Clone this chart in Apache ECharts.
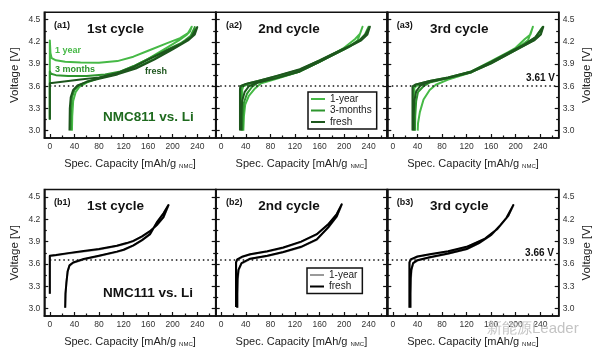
<!DOCTYPE html>
<html><head><meta charset="utf-8">
<script src="https://cdn.jsdelivr.net/npm/echarts@6/dist/echarts.min.js"></script>
<style>html,body{margin:0;padding:0;background:#fff}#c{width:600px;height:356px}</style>
</head><body><div id="c"></div>
<script>
// ---- axis ticks ----
const xTicks = [0, 40, 80, 120, 160, 200, 240];
const xMinorTicks = [20, 60, 100, 140, 180, 220, 260];
const yTicks = [3.0, 3.3, 3.6, 3.9, 4.2, 4.5];
const yMinorTicks = [3.15, 3.45, 3.75, 4.05, 4.35];
const refVoltage = [3.61, 3.66];
const refLabels = ['3.61 V', '3.66 V'];

// ---- NMC811 (row a), [capacity, voltage] ----
const a1_year = [[0,3.15],[0,4.22],[1,4.05],[3,3.98],[10,3.95],[25,3.93],[50,3.92],[80,3.918],[110,3.94],[136,4.0],[160,4.08],[190,4.18],[212,4.25],[225,4.32],[231,4.405],[228,4.34],[222,4.29],[210,4.22],[190,4.12],[160,3.97],[136,3.87],[110,3.78],[80,3.71],[60,3.65],[48,3.59],[42,3.52],[38,3.4],[36.5,3.2],[36,3.0]];
const a1_months = [[0,3.15],[0,3.8],[2,3.77],[10,3.75],[30,3.74],[60,3.74],[90,3.76],[115,3.8],[136,3.87],[160,3.97],[190,4.09],[215,4.19],[228,4.26],[236,4.4],[232,4.3],[220,4.22],[200,4.11],[170,3.97],[140,3.85],[110,3.77],[80,3.71],[60,3.66],[47,3.61],[40,3.55],[36,3.45],[34.5,3.3],[34,3.0]];
const a1_fresh = [[0,3.15],[0,3.64],[20,3.66],[50,3.69],[80,3.72],[110,3.78],[136,3.86],[160,3.96],[190,4.08],[215,4.18],[230,4.26],[240,4.4],[236,4.3],[225,4.22],[200,4.1],[170,3.96],[140,3.84],[110,3.76],[80,3.7],[60,3.66],[45,3.61],[38,3.55],[34,3.45],[32.5,3.3],[32,3.0]];

const a2_year = [[34,3.0],[34,3.55],[36,3.6],[45,3.63],[60,3.66],[90,3.73],[128,3.82],[160,3.94],[183,4.03],[210,4.14],[222,4.22],[230,4.405],[226,4.31],[218,4.24],[200,4.12],[160,3.93],[128,3.8],[90,3.7],[65,3.64],[55,3.57],[45,3.47],[39,3.35],[37,3.2],[36,3.0]];
const a2_months = [[32,3.0],[32,3.57],[34,3.61],[45,3.64],[60,3.67],[90,3.735],[128,3.825],[160,3.95],[183,4.04],[210,4.15],[226,4.23],[234,4.3],[240,4.405],[236,4.3],[226,4.22],[200,4.1],[160,3.93],[128,3.8],[90,3.71],[60,3.65],[50,3.59],[42,3.5],[37,3.38],[35,3.2],[34.5,3.0]];
const a2_fresh = [[30.5,3.0],[30.5,3.55],[31,3.6],[40,3.63],[60,3.67],[90,3.74],[128,3.83],[160,3.95],[183,4.045],[210,4.15],[226,4.225],[235,4.3],[242,4.405],[238,4.3],[228,4.22],[200,4.1],[160,3.93],[128,3.8],[90,3.71],[60,3.65],[45,3.6],[38,3.52],[34,3.4],[33,3.2],[33,3.0]];

const a3_year = [[35,3.0],[35,3.58],[40,3.61],[60,3.66],[90,3.71],[128,3.8],[160,3.94],[190,4.07],[210,4.16],[220,4.22],[228,4.405],[224,4.3],[215,4.24],[200,4.12],[160,3.93],[128,3.79],[90,3.69],[70,3.62],[60,3.55],[50,3.42],[44,3.25],[41,3.1],[40.5,3.0]];
const a3_months = [[33,3.0],[33,3.59],[37,3.62],[60,3.67],[90,3.72],[128,3.8],[160,3.93],[190,4.06],[215,4.17],[232,4.26],[244,4.405],[240,4.3],[229,4.22],[200,4.09],[160,3.91],[128,3.79],[90,3.71],[60,3.65],[50,3.6],[41,3.52],[38,3.4],[36.5,3.2],[36,3.0]];
const a3_fresh = [[32,3.0],[32,3.6],[36,3.62],[60,3.67],[90,3.72],[128,3.8],[160,3.93],[190,4.06],[215,4.17],[232,4.26],[245,4.405],[241,4.3],[230,4.22],[200,4.09],[160,3.91],[128,3.79],[90,3.71],[60,3.66],[45,3.61],[38,3.53],[35,3.4],[34,3.2],[34,3.0]];

// ---- NMC111 (row b) ----
const b1_year = [[0,3.2],[0,3.705],[10,3.715],[30,3.74],[55,3.768],[80,3.795],[109,3.84],[125,3.875],[136,3.905],[150,3.965],[163,4.035],[175,4.125],[185,4.225],[193.5,4.39],[185,4.275],[175,4.165],[163,3.995],[150,3.915],[136,3.845],[120,3.785],[109,3.76],[80,3.705],[55,3.66],[38,3.615],[32,3.575],[29,3.5],[27,3.35],[25.5,3.2],[25,3.01]];
const b1_fresh = [[0,3.2],[0,3.71],[10,3.72],[30,3.745],[55,3.773],[80,3.80],[109,3.845],[125,3.88],[136,3.91],[150,3.97],[163,4.04],[175,4.13],[185,4.23],[193,4.39],[185,4.28],[175,4.17],[163,4.0],[150,3.92],[136,3.85],[120,3.79],[109,3.765],[80,3.71],[55,3.665],[38,3.62],[32,3.58],[29,3.5],[27,3.35],[25.5,3.2],[25,3.01]];

const b2_year = [[24.5,3.02],[24.5,3.62],[26.5,3.655],[35,3.695],[47,3.725],[75,3.765],[101,3.815],[130,3.895],[155.5,3.995],[175,4.135],[188,4.265],[196.5,4.4],[188,4.235],[175,4.095],[155.5,3.925],[130,3.825],[101,3.755],[75,3.705],[47,3.665],[33,3.605],[28.5,3.52],[27,3.4],[26.5,3.2],[26.5,3.01]];
const b2_fresh = [[24,3.02],[24,3.62],[26,3.66],[35,3.70],[47,3.73],[75,3.77],[101,3.82],[130,3.9],[155.5,4.0],[175,4.14],[188,4.27],[196,4.4],[188,4.24],[175,4.1],[155.5,3.93],[130,3.83],[101,3.76],[75,3.71],[47,3.67],[33,3.61],[28,3.52],[26.5,3.4],[26,3.2],[26,3.01]];

const b3_year = [[27.5,3.01],[27.5,3.62],[29.5,3.655],[40,3.695],[60,3.725],[90,3.765],[120,3.825],[150,3.935],[170,4.065],[185,4.215],[196.5,4.39],[188,4.245],[175,4.115],[160,3.985],[140,3.875],[120,3.795],[90,3.735],[60,3.685],[40,3.645],[33,3.605],[30.5,3.52],[29.5,3.4],[29,3.2],[29,3.01]];
const b3_fresh = [[27,3.01],[27,3.62],[29,3.66],[40,3.7],[60,3.73],[90,3.77],[120,3.83],[150,3.94],[170,4.07],[185,4.22],[196,4.39],[188,4.25],[175,4.12],[160,3.99],[140,3.88],[120,3.8],[90,3.74],[60,3.69],[40,3.65],[33,3.61],[30,3.52],[29,3.4],[28.5,3.2],[28.5,3.01]];

const panelTags = ['(a1)','(a2)','(a3)','(b1)','(b2)','(b3)'];
const panelTitles = ['1st cycle','2nd cycle','3rd cycle','1st cycle','2nd cycle','3rd cycle'];

// ---- layout & style ----
const FONT = '"Liberation Sans", Arial, sans-serif';
const lefts = [44.3, 215.7, 387.3], W = 171.4;
const tops = [12.3, 189.5], Hs = [125.7, 126.5];
const C_YEAR = '#46b946', C_MONTH = '#2d952d', C_FRESH = '#1d561d';
const AX = '#111';

const panels = [
  [{name:'1-year', data:a1_year, color:C_YEAR},{name:'3-months', data:a1_months, color:C_MONTH},{name:'fresh', data:a1_fresh, color:C_FRESH}],
  [{name:'1-year', data:a2_year, color:C_YEAR},{name:'3-months', data:a2_months, color:C_MONTH},{name:'fresh', data:a2_fresh, color:C_FRESH}],
  [{name:'1-year', data:a3_year, color:C_YEAR},{name:'3-months', data:a3_months, color:C_MONTH},{name:'fresh', data:a3_fresh, color:C_FRESH}],
  [{name:'1-year ', data:b1_year, color:'#9a9a9a'},{name:'fresh ', data:b1_fresh, color:'#000'}],
  [{name:'1-year ', data:b2_year, color:'#9a9a9a'},{name:'fresh ', data:b2_fresh, color:'#000'}],
  [{name:'1-year ', data:b3_year, color:'#9a9a9a'},{name:'fresh ', data:b3_fresh, color:'#000'}]
];

const grids = [], xAxes = [], yAxes = [], series = [], graphics = [];
for (let r = 0; r < 2; r++) {
  for (let c = 0; c < 3; c++) {
    const g = r * 3 + c;
    grids.push({left: lefts[c], top: tops[r], width: W, height: Hs[r], show: true, borderColor: AX, borderWidth: 1.5, backgroundColor: 'transparent'});
    xAxes.push({
      gridIndex: g, type: 'value', min: -9, max: 270, position: 'bottom',
      axisLine: {show: true, onZero: false, lineStyle: {color: AX, width: 1.5}},
      axisTick: {show: true, inside: true, length: 4, customValues: xTicks, lineStyle: {color: AX, width: 1.2}},
      axisLabel: {show: true, customValues: xTicks, margin: 4, fontSize: 8.5, color: '#333', fontFamily: FONT},
      splitLine: {show: false},
      name: 'Spec. Capacity [mAh/g {sub|NMC}]', nameLocation: 'middle', nameGap: 20,
      nameTextStyle: {fontSize: 11, color: '#222', fontFamily: FONT, rich: {sub: {fontSize: 6, fontFamily: FONT, color: '#222', verticalAlign: 'bottom', padding: [5, 0, 0, 0]}}}
    });
    xAxes.push({
      gridIndex: g, type: 'value', min: -9, max: 270, position: 'bottom',
      axisLine: {show: false},
      axisTick: {show: true, inside: true, length: 2.5, customValues: xMinorTicks, lineStyle: {color: AX, width: 1.2}},
      axisLabel: {show: false}, splitLine: {show: false}
    });
    const mk = (pos, labels, minor) => ({
      gridIndex: g, type: 'value', min: 2.9, max: 4.6, position: pos,
      axisLine: {show: !minor, onZero: false, lineStyle: {color: AX, width: 1.5}},
      axisTick: {show: true, inside: true, length: minor ? 2.5 : 4, customValues: minor ? yMinorTicks : yTicks, lineStyle: {color: AX, width: 1.2}},
      axisLabel: {show: labels && !minor, customValues: yTicks, margin: 4, fontSize: 8.5, color: '#333', fontFamily: FONT, formatter: v => v.toFixed(1)},
      splitLine: {show: false},
      name: (labels && !minor) ? 'Voltage [V]' : '', nameLocation: 'middle', nameRotate: 90, nameGap: pos === 'left' ? 23 : 22,
      nameTextStyle: {fontSize: 11.5, color: '#222', fontFamily: FONT}
    });
    yAxes.push(mk('left', c === 0, false), mk('left', c === 0, true), mk('right', c === 2, false), mk('right', c === 2, true));

    panels[g].forEach((s, i) => {
      const ser = {
        type: 'line', name: s.name, xAxisIndex: g * 2, yAxisIndex: g * 4, data: s.data,
        symbol: 'none', showSymbol: false, smooth: false, color: s.color,
        lineStyle: {color: s.color, width: 2, join: 'round'}, z: 3 + i, animation: false
      };
      if (i === 0) {
        ser.markLine = {
          silent: true, symbol: 'none', label: {show: false}, animation: false,
          lineStyle: {type: [1.5, 3], color: '#111', width: 1.5},
          data: [[{coord: [c === 0 ? 0 : -9, refVoltage[r]]}, {coord: [270, refVoltage[r]]}]]
        };
      }
      series.push(ser);
    });

    const ty = r === 0 ? 26 : 202.7;
    graphics.push({type: 'text', style: {text: panelTags[g], x: [54, 226, 396.7][c], y: ty, fill: '#111', font: 'bold 9px ' + FONT, textVerticalAlign: 'middle', verticalAlign: 'middle'}});
    graphics.push({type: 'text', style: {text: panelTitles[g], x: [87, 258.3, 430][c], y: ty + 3.3, fill: '#111', font: 'bold 13.5px ' + FONT, textVerticalAlign: 'middle', verticalAlign: 'middle'}});
  }
}

const txt = (t, x, y, font, fill, align) => ({type: 'text', style: {text: t, x: x, y: y, font: font + ' ' + FONT, fill: fill, textAlign: align || 'left', align: align || 'left', textVerticalAlign: 'middle', verticalAlign: 'middle'}});
graphics.push(txt('NMC811 vs. Li', 103, 117.7, 'bold 13.5px', '#1e6a1e'));
graphics.push(txt('NMC111 vs. Li', 103, 293.7, 'bold 13.5px', '#111'));
graphics.push(txt('1 year', 55, 51, 'bold 9px', C_YEAR));
graphics.push(txt('3 months', 55, 70, 'bold 9px', C_MONTH));
graphics.push(txt('fresh', 145, 72, 'bold 9px', C_FRESH));
graphics.push(txt(refLabels[0], 555, 78.5, 'bold 10px', '#111', 'right'));
graphics.push(txt(refLabels[1], 554, 253, 'bold 10px', '#111', 'right'));
graphics.push(txt('新能源Leader', 487, 329, '15px', '#c4c4c4'));
graphics.forEach(g => { g.z = 100; g.silent = true; });

const legendText = {fontSize: 10, color: '#222', fontFamily: FONT, lineHeight: 10};
const option = {
  animation: false,
  backgroundColor: '#fff',
  grid: grids, xAxis: xAxes, yAxis: yAxes, series: series, graphic: graphics,
  legend: [
    {data: ['1-year', '3-months', 'fresh'], left: 308, top: 92, orient: 'vertical', icon: 'rect', itemWidth: 14, itemHeight: 2, itemGap: 1.5,
     padding: [2, 5, 2, 3], borderColor: '#111', borderWidth: 1.5, textStyle: legendText, backgroundColor: '#fff', selectedMode: false},
    {data: ['1-year ', 'fresh '], left: 307, top: 268, orient: 'vertical', icon: 'rect', itemWidth: 14, itemHeight: 2, itemGap: 1.5,
     padding: [2, 5, 2, 3], borderColor: '#111', borderWidth: 1.5, textStyle: legendText, backgroundColor: '#fff', selectedMode: false,
     formatter: n => n.trim()}
  ]
};
const chart = echarts.init(document.getElementById('c'), null, {renderer: 'canvas'});
chart.setOption(option);
</script>
</body></html>
